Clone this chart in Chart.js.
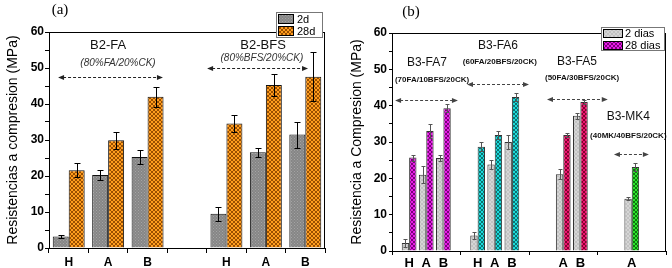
<!DOCTYPE html>
<html>
<head>
<meta charset="utf-8">
<script src="https://cdn.jsdelivr.net/npm/chart.js@4.4.0/dist/chart.umd.min.js"></script>
<style>
  html, body { margin: 0; padding: 0; background: #fff; }
  #wrap { position: relative; width: 672px; height: 268px; }
  canvas { position: absolute; top: 0; }
  #chartA { left: 0; }
  #chartB { left: 336px; }
</style>
</head>
<body>
<div id="wrap">
  <canvas id="chartA" width="336" height="268"></canvas>
  <canvas id="chartB" width="336" height="268"></canvas>
</div>
<script>
// panel (a): B2 mixes, 2 and 28 days
const labelsA = ['H', 'A', 'B', '', 'H', 'A', 'B'];
const a2d = [3.2, 20.3, 25.3, null, 9.5, 26.6, 31.5];
const a2dErr = [0.3, 1.3, 2.0, null, 1.9, 1.2, 3.6];
const a28d = [21.6, 29.9, 42.0, null, 34.6, 45.3, 47.6];
const a28dErr = [1.9, 2.3, 2.7, null, 2.3, 3.1, 6.8];

// panel (b): B3 mixes, 2 dias / 28 dias (one slot per tick, '' = empty slot)
const labelsB = ['', 'H', 'A', 'B', '', 'H', 'A', 'B', '', '', 'A', 'B', '', '', 'A', '', ''];
const b2 = [null, 2.2, 21.0, 25.6, null, 4.3, 23.8, 30.0, null, null, 21.1, 37.2, null, null, 14.4, null, null];
const b2Err = [null, 1.2, 2.3, 0.7, null, 1.0, 1.3, 2.0, null, null, 1.4, 0.8, null, null, 0.5, null, null];
const b28 = [null, 25.7, 33.0, 39.3, null, 28.7, 31.9, 42.4, null, null, 31.9, 41.0, null, null, 23.1, null, null];
const b28Err = [null, 0.8, 2.0, 1.1, null, 1.2, 1.0, 1.2, null, null, 0.5, 0.5, null, null, 1.2, null, null];
const b28Group = [0, 0, 0, 0, 1, 1, 1, 1, 2, 2, 2, 2, 3, 3, 3, 3, 3]; // which mix colour each slot uses

const SANS = "'Liberation Sans', Arial, sans-serif";
const NARROW = "'Liberation Sans Narrow', 'Liberation Sans', Arial, sans-serif";
const SERIF = "'Liberation Serif', 'Times New Roman', serif";

function hatch(ctx, base, line, size, dots) {
    const c = document.createElement('canvas');
    c.width = c.height = size;
    const g = c.getContext('2d');
    g.fillStyle = base;
    g.fillRect(0, 0, size, size);
    g.strokeStyle = line;
    g.fillStyle = line;
    if (dots) {
        g.fillRect(0, 0, 1, 1);
        g.fillRect(size / 2, size / 2, 1, 1);
    } else {
        g.lineWidth = 1;
        g.beginPath();
        g.moveTo(0, 0); g.lineTo(size, size);
        g.moveTo(size, 0); g.lineTo(0, size);
        g.stroke();
    }
    return ctx.createPattern(c, 'repeat');
}

// error bars from dataset.err
const errorBars = {
    id: 'errorBars',
    afterDatasetsDraw(chart, args, opts) {
        const ctx = chart.ctx;
        const y = chart.scales.y;
        ctx.save();
        ctx.strokeStyle = opts.color || '#000';
        ctx.lineWidth = 1;
        chart.data.datasets.forEach((ds, i) => {
            const meta = chart.getDatasetMeta(i);
            meta.data.forEach((bar, j) => {
                const v = ds.data[j], e = ds.err ? ds.err[j] : null;
                if (v == null || e == null) return;
                const x = Math.round(bar.x) + 0.5;
                const t = Math.round(y.getPixelForValue(v + e)) + 0.5;
                const b = Math.round(y.getPixelForValue(v - e)) + 0.5;
                const c = opts.cap;
                ctx.beginPath();
                ctx.moveTo(x, t); ctx.lineTo(x, b);
                ctx.moveTo(x - c, t); ctx.lineTo(x + c, t);
                ctx.moveTo(x - c, b); ctx.lineTo(x + c, b);
                ctx.stroke();
            });
        });
        ctx.restore();
    }
};

// group names, compositions and dashed double arrows
const notes = {
    id: 'notes',
    afterDatasetsDraw(chart, args, opts) {
        const ctx = chart.ctx;
        const xs = chart.scales.x, ys = chart.scales.y;
        ctx.save();
        (opts.items || []).forEach(it => {
            const py = Math.round(ys.getPixelForValue(it.y)) + 0.5;
            if (it.arrow) {
                const x0 = xs.getPixelForValue(it.arrow[0]);
                const x1 = xs.getPixelForValue(it.arrow[1]);
                ctx.strokeStyle = it.color || '#222';
                ctx.fillStyle = it.color || '#222';
                ctx.lineWidth = 1;
                ctx.setLineDash([3, 2]);
                ctx.beginPath();
                ctx.moveTo(x0 + 5, py); ctx.lineTo(x1 - 5, py);
                ctx.stroke();
                ctx.setLineDash([]);
                ctx.beginPath();
                ctx.moveTo(x0, py); ctx.lineTo(x0 + 6, py - 2.5); ctx.lineTo(x0 + 6, py + 2.5); ctx.closePath();
                ctx.moveTo(x1, py); ctx.lineTo(x1 - 6, py - 2.5); ctx.lineTo(x1 - 6, py + 2.5); ctx.closePath();
                ctx.fill();
            } else {
                ctx.font = it.font;
                ctx.fillStyle = it.color || '#111';
                ctx.textAlign = 'center';
                ctx.textBaseline = 'middle';
                ctx.fillText(it.text, xs.getPixelForValue(it.x), py);
            }
        });
        if (opts.panel) {
            ctx.font = '15px ' + SERIF;
            ctx.fillStyle = '#000';
            ctx.textAlign = 'center';
            ctx.textBaseline = 'middle';
            ctx.fillText(opts.panel.text, opts.panel.x, opts.panel.y);
        }
        ctx.restore();
    }
};

// plot frame plus boxed legend drawn over the top border
const frameLegend = {
    id: 'frameLegend',
    afterDraw(chart, args, opts) {
        const ctx = chart.ctx;
        const a = chart.chartArea;
        ctx.save();
        ctx.strokeStyle = '#000';
        ctx.lineWidth = 1;
        ctx.strokeRect(Math.round(a.left) + 0.5, Math.round(a.top) + 0.5,
            Math.round(a.right - a.left) - 1, Math.round(a.bottom - a.top));
        const L = opts.box;
        ctx.fillStyle = '#fff';
        ctx.fillRect(L.x, L.y, L.w, L.h);
        ctx.strokeStyle = '#777';
        ctx.strokeRect(L.x + 0.5, L.y + 0.5, L.w - 1, L.h - 1);
        ctx.font = opts.font;
        ctx.textAlign = 'left';
        ctx.textBaseline = 'middle';
        opts.items.forEach((it, i) => {
            const sy = L.y + 2 + i * opts.row;
            ctx.fillStyle = it.fill;
            ctx.fillRect(L.x + 2, sy, opts.sw, opts.sh);
            ctx.strokeStyle = '#000';
            ctx.strokeRect(L.x + 2.5, sy + 0.5, opts.sw - 1, opts.sh - 1);
            ctx.fillStyle = '#000';
            ctx.fillText(it.label, L.x + opts.sw + opts.gap, sy + opts.sh / 2 + 0.5);
        });
        ctx.restore();
    }
};

function yAxis(width, title, titlePad, tickLen, tickPad) {
    return {
        min: 0, max: 60,
        afterFit: s => { s.width = width; },
        border: { display: false },
        grid: { drawOnChartArea: false, drawTicks: true, tickLength: tickLen, tickColor: '#000' },
        ticks: {
            stepSize: 5, padding: tickPad, color: '#000',
            font: { family: SANS, size: 12, weight: 'bold' },
            callback: v => (v % 10 === 0 ? v : '')
        },
        title: {
            display: true, text: title, color: '#000',
            font: { family: SANS, size: 14 },
            padding: { top: titlePad, bottom: 0 }
        }
    };
}

// ---------- panel (a)
const ctxA = document.getElementById('chartA').getContext('2d');
const grayA = hatch(ctxA, '#868686', '#a4a4a4', 3, true);
const orangeA = hatch(ctxA, '#ff9d1e', '#9a4f00', 4, false);

new Chart(ctxA, {
    type: 'bar',
    data: {
        labels: labelsA,
        datasets: [
            { label: '2d', data: a2d, err: a2dErr, backgroundColor: grayA, borderColor: '#111', borderWidth: 1 },
            { label: '28d', data: a28d, err: a28dErr, backgroundColor: orangeA, borderColor: '#111', borderWidth: 1 }
        ]
    },
    options: {
        responsive: false,
        animation: false,
        devicePixelRatio: 1,
        layout: { padding: { left: 0, top: 32, right: 11, bottom: 0 } },
        datasets: { bar: { categoryPercentage: 0.81, barPercentage: 1 } },
        plugins: {
            legend: { display: false },
            tooltip: { enabled: false },
            errorBars: { cap: 3, color: '#000' },
            notes: {
                panel: { text: '(a)', x: 60, y: 10 },
                items: [
                    { text: 'B2-FA', x: 1, y: 56.4, font: '13px ' + SANS },
                    { text: '(80%FA/20%CK)', x: 1.25, y: 51.4, font: 'italic 10px ' + SANS, color: '#333' },
                    { arrow: [-0.27, 2.39], y: 47.5 },
                    { text: 'B2-BFS', x: 4.93, y: 56.4, font: '13px ' + SANS },
                    { text: '(80%BFS/20%CK)', x: 4.9, y: 52.8, font: 'italic 10px ' + SANS, color: '#333' },
                    { arrow: [3.51, 6.07], y: 50 }
                ]
            },
            frameLegend: {
                box: { x: 276, y: 12, w: 47, h: 26 },
                row: 12, sw: 16, sh: 10, gap: 5,
                font: '11px ' + SANS,
                items: [{ label: '2d', fill: grayA }, { label: '28d', fill: orangeA }]
            }
        },
        scales: {
            x: {
                afterFit: s => { s.height = 20; },
                border: { display: false },
                grid: { drawOnChartArea: false, offset: true, tickLength: 5, tickColor: '#000' },
                ticks: { padding: 2, color: '#000', autoSkip: false, maxRotation: 0,
                    font: { family: SANS, size: 12, weight: 'bold' } }
            },
            y: yAxis(49, 'Resistencias a compresion (MPa)', 5, 4, 1)
        }
    },
    plugins: [errorBars, notes, frameLegend]
});

// ---------- panel (b)
const ctxB = document.getElementById('chartB').getContext('2d');
const grayB = hatch(ctxB, '#c2c2c2', '#d6d6d6', 4, false);
const mixColours = [
    hatch(ctxB, '#e81ce8', '#7c007c', 4, false),
    hatch(ctxB, '#1cdada', '#0c7272', 4, false),
    hatch(ctxB, '#ee1470', '#84002e', 4, false),
    hatch(ctxB, '#2ee42e', '#0c780c', 4, false)
];

new Chart(ctxB, {
    type: 'bar',
    data: {
        labels: labelsB,
        datasets: [
            { label: '2 dias', data: b2, err: b2Err, backgroundColor: grayB, borderColor: '#333', borderWidth: 1 },
            { label: '28 dias', data: b28, err: b28Err,
              backgroundColor: b28Group.map(g => mixColours[g]), borderColor: '#333', borderWidth: 1 }
        ]
    },
    options: {
        responsive: false,
        animation: false,
        devicePixelRatio: 1,
        layout: { padding: { left: 0, top: 33, right: 6, bottom: 0 } },
        datasets: { bar: { categoryPercentage: 0.86, barPercentage: 1 } },
        plugins: {
            legend: { display: false },
            tooltip: { enabled: false },
            errorBars: { cap: 2, color: '#555' },
            notes: {
                panel: { text: '(b)', x: 75, y: 12 },
                items: [
                    { text: 'B3-FA7', x: 2.04, y: 52, font: '12px ' + SANS },
                    { text: '(70FA/10BFS/20CK)', x: 2.34, y: 47.3, font: 'bold 8px ' + NARROW },
                    { arrow: [0.18, 3.85], y: 41.5, color: '#444' },
                    { text: 'B3-FA6', x: 6.19, y: 56.7, font: '12px ' + SANS },
                    { text: '(60FA/20BFS/20CK)', x: 6.3, y: 52.3, font: 'bold 8px ' + NARROW },
                    { arrow: [4.38, 8.0], y: 45.9, color: '#444' },
                    { text: 'B3-FA5', x: 10.8, y: 52.3, font: '12px ' + SANS },
                    { text: '(50FA/30BFS/20CK)', x: 11.1, y: 47.9, font: 'bold 8px ' + NARROW },
                    { arrow: [9.05, 12.6], y: 41.8, color: '#444' },
                    { text: 'B3-MK4', x: 13.8, y: 37.1, font: '12px ' + SANS },
                    { text: '(40MK/40BFS/20CK)', x: 13.8, y: 31.9, font: 'bold 8px ' + NARROW },
                    { arrow: [12.96, 15.0], y: 26.6, color: '#444' }
                ]
            },
            frameLegend: {
                box: { x: 265, y: 27, w: 64, h: 24 },
                row: 12, sw: 20, sh: 9, gap: 4,
                font: '11px ' + SANS,
                items: [{ label: '2 dias', fill: grayB }, { label: '28 dias', fill: mixColours[0] }]
            }
        },
        scales: {
            x: {
                offset: false,
                afterFit: s => { s.height = 17; },
                border: { display: false },
                grid: { drawOnChartArea: false, offset: false, tickLength: 4,
                    tickColor: c => (c.index % 4 === 0 ? '#000' : 'rgba(0,0,0,0)') },
                ticks: { padding: 1, color: '#000', autoSkip: false, maxRotation: 0,
                    font: { family: SANS, size: 13, weight: 'bold' } }
            },
            y: yAxis(56, 'Resistencia a Compresion (MPa)', 13, 3, 2)
        }
    },
    plugins: [errorBars, notes, frameLegend]
});
</script>
</body>
</html>
